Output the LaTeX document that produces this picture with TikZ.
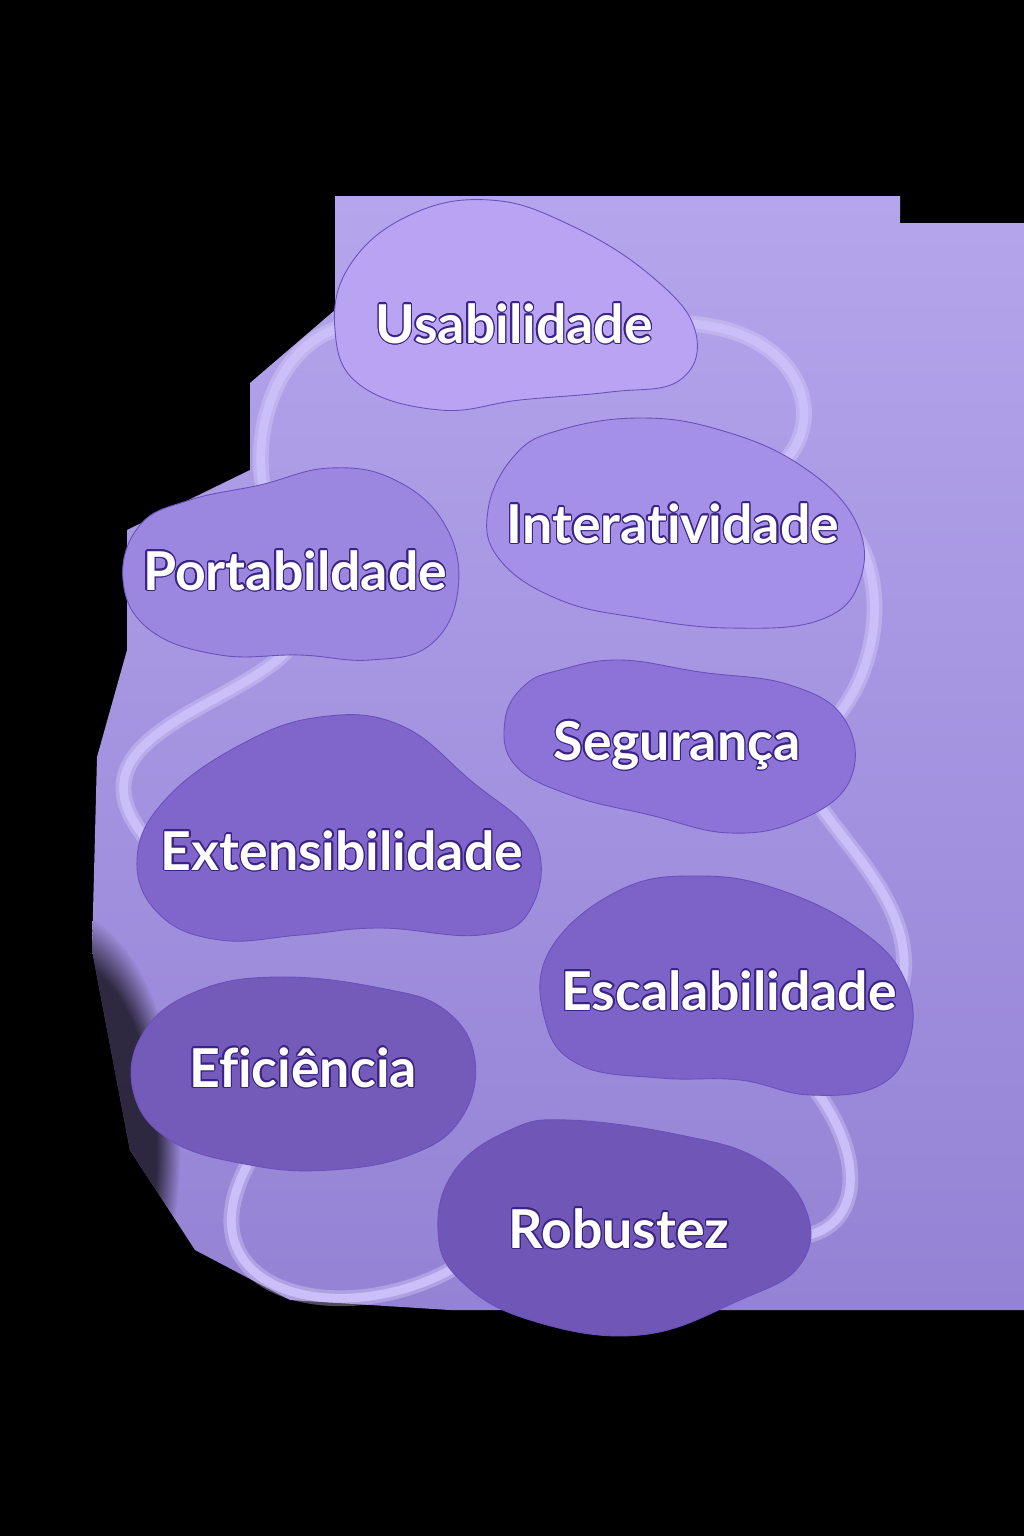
\documentclass[tikz,border=0pt]{standalone}
\usepackage{fontspec}
\setmainfont{Lato}[Ligatures=NoCommon]
\newfontfamily\qualityfont{Lato}[Ligatures=NoCommon]
\usepackage{contour}
\usetikzlibrary{fadings}
\contourlength{0.7pt}
\newcommand\qual[1]{\contour{textline}{\qualityfont\bfseries #1}}

\definecolor{bgtop}{HTML}{B4A5EC}
\definecolor{bgbot}{HTML}{9482D4}
\definecolor{linkcol}{HTML}{CBBFFA}
\definecolor{blobline}{HTML}{6A50BC}
\definecolor{textline}{HTML}{3A2382}
\definecolor{cUsab}{HTML}{B8A4F3}
\definecolor{cInter}{HTML}{A590E8}
\definecolor{cPorta}{HTML}{9C87E0}
\definecolor{cSegur}{HTML}{8C73D8}
\definecolor{cExtens}{HTML}{8066CA}
\definecolor{cEscal}{HTML}{7C63C7}
\definecolor{cEfic}{HTML}{745AB9}
\definecolor{cRobust}{HTML}{7056B7}

\newcommand\backdropoutline{(335,196) -- (900,196) -- (900,223) -- (1024,223)
  -- (1024,1310) -- (830,1310) -- (450,1310) -- (290,1300) -- (195,1250)
  -- (130,1150) -- (92,950) -- (97,757) -- (127,650) -- (127,530)
  -- (250,470) -- (250,383) -- (335,310) -- cycle}

\pgfdeclarelayer{backdrop}
\pgfdeclarelayer{links}
\pgfdeclarelayer{blobs}
\pgfsetlayers{backdrop,links,blobs,main}

\tikzset{
  quality/.style={anchor=base, text=white, inner sep=2pt,
    font=\fontsize{30.5}{36}\selectfont},
  blob/.style={draw=blobline, line width=0.5pt},
  link/.style={draw=linkcol, line width=5pt, line cap=round},
  glow/.style={draw=linkcol!60!white, line width=9pt, opacity=0.35, line cap=round}
}

\begin{document}
\begin{tikzpicture}[x=0.02cm, y=-0.02cm]

\useasboundingbox (0,0) rectangle (1024,1536);

% labels first, the rest is drawn on lower layers
\node[quality] (usab) at (514,343) {\qual{Usabilidade}};
\node[quality] (inter) at (673,543) {\qual{Interatividade}};
\node[quality] (porta) at (295,590) {\qual{Portabildade}};
\node[quality] (segur) at (677,760) {\qual{Segurança}};
\node[quality] (extens) at (342,870) {\qual{Extensibilidade}};
\node[quality] (escal) at (729,1010) {\qual{Escalabilidade}};
\node[quality] (efic) at (303,1087) {\qual{Eficiência}};
\node[quality] (robust) at (619,1248) {\qual{Robustez}};

\begin{pgfonlayer}{backdrop}
\fill[black] (0,0) rectangle (1024,1536);
\shade[top color=bgtop, bottom color=bgbot] \backdropoutline;
\begin{scope}
\clip \backdropoutline;
\fill[black, opacity=0.7, path fading=circle with fuzzy edge 20 percent]
  (60,1150) ellipse [x radius=120, y radius=240];
\end{scope}
\end{pgfonlayer}

\begin{pgfonlayer}{links}
\foreach \s in {glow, link}
{
\draw[\s] (usab.east) .. controls (840,310) and (860,500) .. (inter.north);
\draw[\s] (usab.west) .. controls (255,320) and (232,500) .. (porta.north);
\draw[\s] (inter.east) .. controls (890,560) and (890,690) .. (segur.east);
\draw[\s] (porta.south) .. controls (350,700) and (20,710) .. (extens.west);
\draw[\s] (segur.south east) .. controls (820,830) and (925,900) .. (escal.east);
\draw[\s] (escal.south) .. controls (880,1100) and (900,1280) .. (robust.east);
\draw[\s] (efic.south) .. controls (100,1300) and (380,1360) .. (robust.west);
}
\end{pgfonlayer}

\begin{pgfonlayer}{blobs}
\filldraw[blob, fill=cUsab] plot[smooth cycle, tension=0.7] coordinates
  {(490,200) (570,225) (650,275) (695,330) (680,380) (610,392) (520,400)
   (440,410) (360,385) (335,330) (350,265) (410,215)};
\filldraw[blob, fill=cInter] plot[smooth cycle, tension=0.7] coordinates
  {(560,430) (640,418) (720,430) (800,465) (855,520) (860,580) (820,620)
   (730,628) (640,618) (560,600) (500,560) (488,510) (515,455)};
\filldraw[blob, fill=cPorta] plot[smooth cycle, tension=0.7] coordinates
  {(190,500) (260,485) (330,468) (395,480) (445,525) (458,590) (430,645)
   (370,660) (300,655) (220,655) (150,630) (123,580) (140,525)};
\filldraw[blob, fill=cSegur] plot[smooth cycle, tension=0.7] coordinates
  {(560,670) (620,660) (700,672) (790,685) (845,720) (850,780) (800,820)
   (730,833) (650,815) (570,795) (515,765) (505,720) (525,685)};
\filldraw[blob, fill=cExtens] plot[smooth cycle, tension=0.7] coordinates
  {(240,745) (320,717) (400,725) (470,780) (535,840) (530,910) (480,935)
   (380,928) (300,935) (220,940) (160,915) (137,860) (165,800)};
\filldraw[blob, fill=cEscal] plot[smooth cycle, tension=0.7] coordinates
  {(620,890) (700,876) (780,890) (860,930) (905,980) (910,1040) (880,1085)
   (810,1095) (740,1080) (660,1078) (580,1065) (545,1020) (550,950)};
\filldraw[blob, fill=cEfic] plot[smooth cycle, tension=0.7] coordinates
  {(200,990) (280,977) (380,988) (445,1010) (475,1060) (460,1120) (410,1155)
   (330,1170) (250,1165) (170,1140) (133,1090) (145,1030)};
\filldraw[blob, fill=cRobust] plot[smooth cycle, tension=0.7] coordinates
  {(568,1120) (680,1135) (760,1160) (806,1210) (800,1265) (740,1300)
   (640,1335) (530,1320) (460,1280) (438,1230) (455,1170) (510,1130)};
\end{pgfonlayer}

\end{tikzpicture}
\end{document}
